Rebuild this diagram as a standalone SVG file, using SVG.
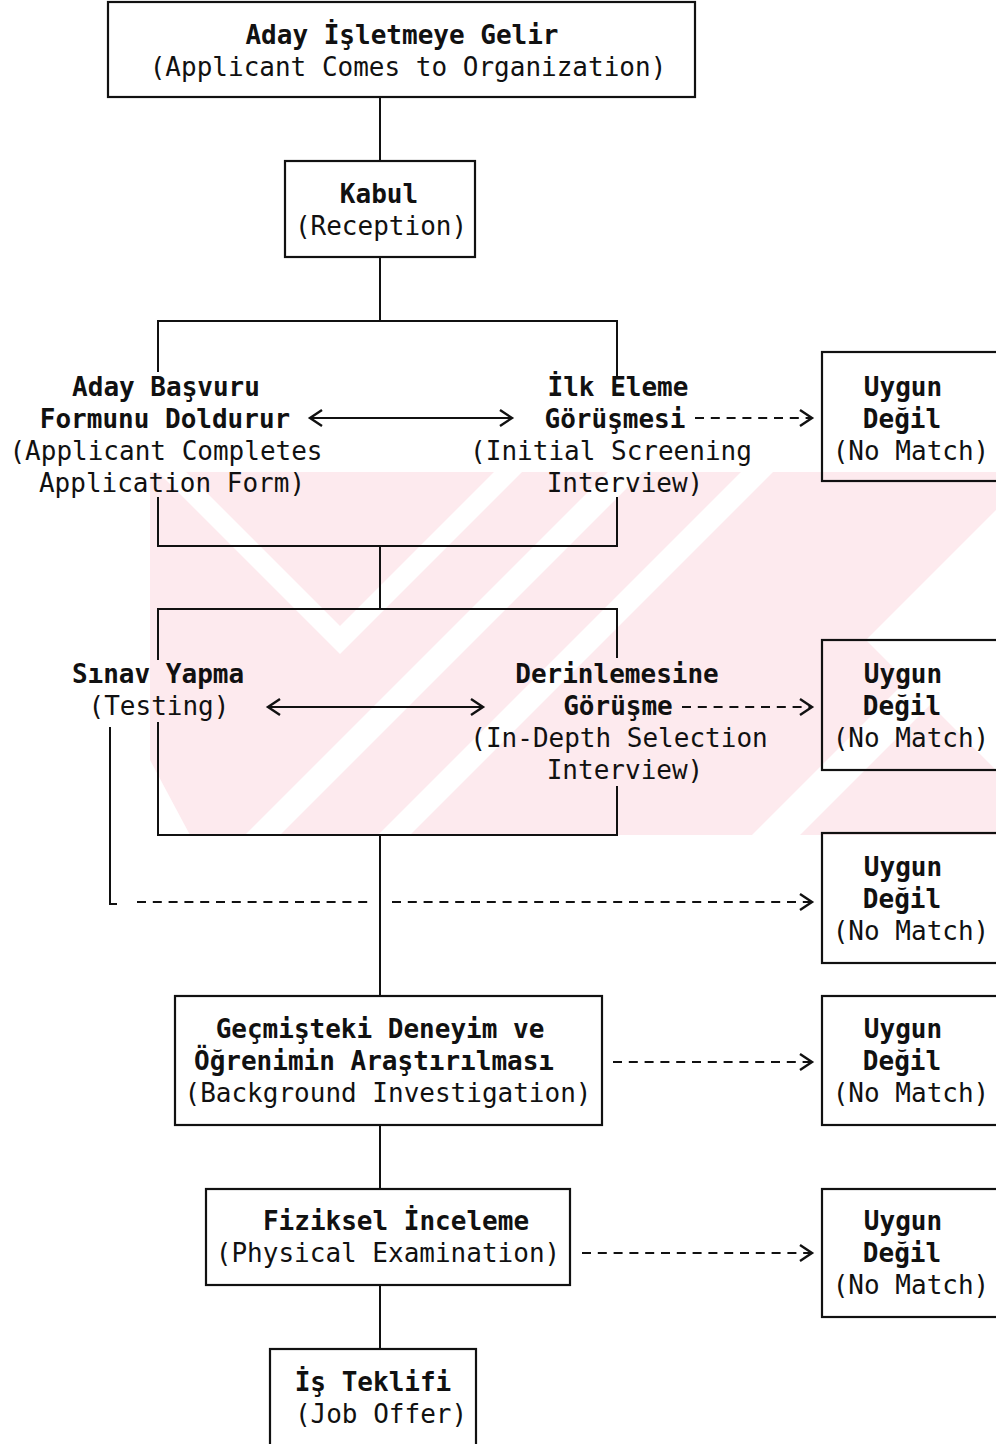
<svg xmlns="http://www.w3.org/2000/svg" width="996" height="1444" viewBox="0 0 996 1444">
<style>
  .bg{fill:#ffffff}
  .wm{fill:#fdeaee}
  .wh{fill:#ffffff}
  .box{fill:none;stroke:#111;stroke-width:2.2}
  .ln{fill:none;stroke:#111;stroke-width:2}
  .dash{fill:none;stroke:#111;stroke-width:2;stroke-dasharray:9 6.8}
  .chev{fill:none;stroke:#111;stroke-width:2.4;stroke-linejoin:miter}
  text{font-family:"DejaVu Sans Mono","Liberation Mono",monospace;font-size:26px;fill:#111;text-anchor:middle}
  .b{font-weight:bold}
</style>
<defs>
  <clipPath id="wmclip"><rect x="150" y="472" width="846" height="363"/></clipPath>
</defs>
<rect class="bg" x="0" y="0" width="996" height="1444"/>
<g id="watermark" clip-path="url(#wmclip)">
  <rect class="wm" x="150" y="472" width="846" height="363"/>
  <polygon class="wh" points="158,472 340,654 522,472 494,472 340,626 186,472"/>
  <polygon class="wh" points="245,835 280,835 643,472 608,472"/>
  <polygon class="wh" points="378,835 410,835 773,472 741,472"/>
  <polygon class="wh" points="752,835 800,835 996,639 996,591"/>
  <polygon class="wh" points="866,640 996,510 996,770"/>
  <polygon class="wh" points="150,760 150,835 190,835"/>
</g>
<g id="connectors">
  <line class="ln" x1="380" y1="97" x2="380" y2="161"/>
  <line class="ln" x1="380" y1="257" x2="380" y2="321"/>
  <polyline class="ln" points="158,372 158,321 617,321 617,376"/>
  <line class="ln" x1="310" y1="418" x2="512" y2="418"/>
  <path class="chev" d="M322,410 L310,418 L322,426"/>
  <path class="chev" d="M500,410 L512,418 L500,426"/>
  <line class="dash" x1="695" y1="418" x2="810" y2="418"/>
  <path class="chev" d="M800,410 L812,418 L800,426"/>
  <polyline class="ln" points="158,497 158,546 617,546 617,497"/>
  <line class="ln" x1="380" y1="546" x2="380" y2="609"/>
  <polyline class="ln" points="158,660 158,609 617,609 617,658"/>
  <line class="ln" x1="268" y1="707" x2="483" y2="707"/>
  <path class="chev" d="M280,699 L268,707 L280,715"/>
  <path class="chev" d="M471,699 L483,707 L471,715"/>
  <line class="dash" x1="682" y1="707" x2="810" y2="707"/>
  <path class="chev" d="M800,699 L812,707 L800,715"/>
  <polyline class="ln" points="158,722 158,835 617,835 617,786"/>
  <line class="ln" x1="380" y1="835" x2="380" y2="996"/>
  <polyline class="ln" points="110,727 110,904 117,904"/>
  <line class="dash" x1="137" y1="902" x2="370" y2="902"/>
  <line class="dash" x1="392" y1="902" x2="810" y2="902"/>
  <path class="chev" d="M800,894 L812,902 L800,910"/>
  <line class="dash" x1="613" y1="1062" x2="810" y2="1062"/>
  <path class="chev" d="M800,1054 L812,1062 L800,1070"/>
  <line class="ln" x1="380" y1="1125" x2="380" y2="1189"/>
  <line class="dash" x1="582" y1="1253" x2="810" y2="1253"/>
  <path class="chev" d="M800,1245 L812,1253 L800,1261"/>
  <line class="ln" x1="380" y1="1285" x2="380" y2="1349"/>
</g>
<g id="n-applicant-comes">
  <rect class="box" x="108" y="2" width="587" height="95"/>
  <text class="b" x="402" y="44">Aday İşletmeye Gelir</text>
  <text x="408" y="76">(Applicant Comes to Organization)</text>
</g>
<g id="n-reception">
  <rect class="box" x="285" y="161" width="190" height="96"/>
  <text class="b" x="379" y="203">Kabul</text>
  <text x="381" y="235">(Reception)</text>
</g>
<g id="n-application-form">
  <text class="b" x="166" y="396">Aday Başvuru</text>
  <text class="b" x="165" y="428">Formunu Doldurur</text>
  <text x="166" y="460">(Applicant Completes</text>
  <text x="172" y="492">Application Form)</text>
</g>
<g id="n-initial-screening">
  <text class="b" x="618" y="396">İlk Eleme</text>
  <text class="b" x="615" y="428">Görüşmesi</text>
  <text x="611" y="460">(Initial Screening</text>
  <text x="625" y="492">Interview)</text>
</g>
<g id="n-nomatch-1">
  <rect class="box" x="822" y="352" width="184" height="129"/>
  <text class="b" x="903" y="396">Uygun</text>
  <text class="b" x="902" y="428">Değil</text>
  <text x="911" y="460">(No Match)</text>
</g>
<g id="n-testing">
  <text class="b" x="158" y="683">Sınav Yapma</text>
  <text x="159" y="715">(Testing)</text>
</g>
<g id="n-indepth">
  <text class="b" x="617" y="683">Derinlemesine</text>
  <text class="b" x="618" y="715">Görüşme</text>
  <text x="619" y="747">(In-Depth Selection</text>
  <text x="625" y="779">Interview)</text>
</g>
<g id="n-nomatch-2">
  <rect class="box" x="822" y="640" width="184" height="130"/>
  <text class="b" x="903" y="683">Uygun</text>
  <text class="b" x="902" y="715">Değil</text>
  <text x="911" y="747">(No Match)</text>
</g>
<g id="n-nomatch-3">
  <rect class="box" x="822" y="833" width="184" height="130"/>
  <text class="b" x="903" y="876">Uygun</text>
  <text class="b" x="902" y="908">Değil</text>
  <text x="911" y="940">(No Match)</text>
</g>
<g id="n-background">
  <rect class="box" x="175" y="996" width="427" height="129"/>
  <text class="b" x="380" y="1038">Geçmişteki Deneyim ve</text>
  <text class="b" x="374" y="1070">Öğrenimin Araştırılması</text>
  <text x="388" y="1102">(Background Investigation)</text>
</g>
<g id="n-nomatch-4">
  <rect class="box" x="822" y="996" width="184" height="129"/>
  <text class="b" x="903" y="1038">Uygun</text>
  <text class="b" x="902" y="1070">Değil</text>
  <text x="911" y="1102">(No Match)</text>
</g>
<g id="n-physical">
  <rect class="box" x="206" y="1189" width="364" height="96"/>
  <text class="b" x="396" y="1230">Fiziksel İnceleme</text>
  <text x="388" y="1262">(Physical Examination)</text>
</g>
<g id="n-nomatch-5">
  <rect class="box" x="822" y="1189" width="184" height="128"/>
  <text class="b" x="903" y="1230">Uygun</text>
  <text class="b" x="902" y="1262">Değil</text>
  <text x="911" y="1294">(No Match)</text>
</g>
<g id="n-job-offer">
  <rect class="box" x="270" y="1349" width="206" height="100"/>
  <text class="b" x="373" y="1391">İş Teklifi</text>
  <text x="381" y="1423">(Job Offer)</text>
</g>
</svg>
